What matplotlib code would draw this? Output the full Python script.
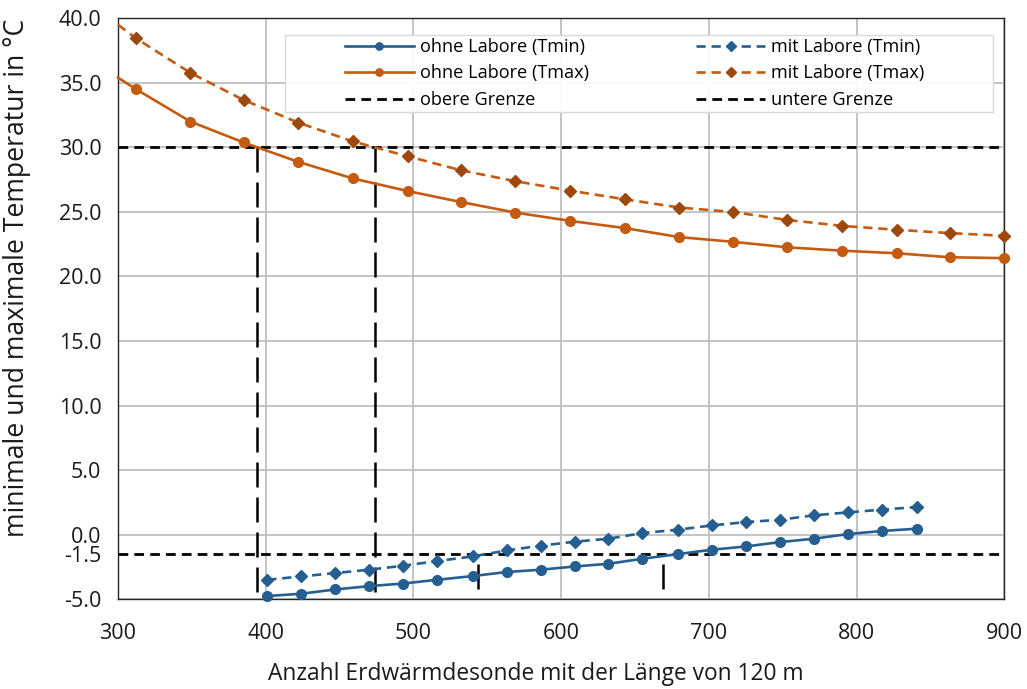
import matplotlib
matplotlib.use("Agg")
import matplotlib.pyplot as plt
from matplotlib.patches import Rectangle

# ______________________________________________________________________________
# Daten

# Anzahl Sonden - Tmin-Reihen
anzahl_tmin = [401, 424, 447, 470, 493, 516, 540, 563, 586, 609,
               632, 655, 679, 702, 725, 748, 771, 794, 817, 841]
tmin_ohne = [-4.75, -4.57, -4.24, -3.98, -3.78, -3.49, -3.20, -2.89, -2.71, -2.46,
             -2.25, -1.86, -1.50, -1.16, -0.91, -0.57, -0.31, 0.05, 0.29, 0.47]
tmin_mit = [-3.49, -3.23, -2.97, -2.71, -2.40, -2.04, -1.68, -1.22, -0.85, -0.54,
            -0.31, 0.13, 0.39, 0.72, 0.98, 1.16, 1.50, 1.73, 1.94, 2.15]

# Tmax-Reihen (erster Wert = Kurvenanfang am Achsenrand, ohne Marker)
anzahl_tmax = [300, 312, 349, 385, 422, 459, 496, 532, 569, 606,
               643, 680, 716, 753, 790, 827, 863, 900]
tmax_ohne = [35.4, 34.52, 32.00, 30.38, 28.88, 27.59, 26.62, 25.77, 24.95, 24.31,
             23.75, 23.05, 22.69, 22.26, 22.00, 21.80, 21.49, 21.42]
tmax_mit = [39.5, 38.46, 35.77, 33.67, 31.92, 30.46, 29.31, 28.23, 27.38, 26.65,
            25.98, 25.34, 25.00, 24.38, 23.92, 23.62, 23.36, 23.15]

# Grenzen
obere_grenze = 30.0
untere_grenze = -1.5

# Schnittpunkte mit den Grenzen
schnitt_oben = [394, 474]
schnitt_unten = [544, 669]

x_bereich = [300, 900]
x_ticks = [300, 400, 500, 600, 700, 800, 900]
y_ticks = [-5, 0, 5, 10, 15, 20, 25, 30, 35, 40]

# ______________________________________________________________________________
# RCParams

plt.rcParams['font.family'] = ['Open Sans', 'DejaVu Sans']
plt.rcParams['font.size'] = 14
plt.rcParams['axes.linewidth'] = 1.0

blau = '#255E91'
orange = '#C55A11'
braun = '#9E480E'
gitter = '#BFBFBF'
text = '#1A1A1A'

# ______________________________________________________________________________
# Figur

fig = plt.figure(figsize=(10.27, 6.89), dpi=100)
ax = fig.add_axes([0.1149, 0.1302, 0.8631, 0.8433])

strich = (0, (3.5, 2.2))
marker_ab = list(range(1, len(anzahl_tmax)))

ax.plot(anzahl_tmin, tmin_ohne, color=blau, lw=1.9, marker='o', ms=7,
        label='ohne Labore (Tmin)', zorder=4, clip_on=False)
ax.plot(anzahl_tmax, tmax_ohne, color=orange, lw=1.9, marker='o', ms=7,
        markevery=marker_ab, label='ohne Labore (Tmax)', zorder=4,
        clip_on=False)
ax.plot(x_bereich, [obere_grenze] * 2, color='k', lw=2.0, linestyle=strich,
        label='obere Grenze', zorder=3)
ax.plot(anzahl_tmin, tmin_mit, color=blau, lw=1.9, marker='D', ms=6.5,
        linestyle=strich, label='mit Labore (Tmin)', zorder=4, clip_on=False)
ax.plot(anzahl_tmax, tmax_mit, color=orange, lw=1.9, marker='D', ms=6.5,
        mfc=braun, mec=braun, markevery=marker_ab, linestyle=strich,
        label='mit Labore (Tmax)', zorder=4, clip_on=False)
ax.plot(x_bereich, [untere_grenze] * 2, color='k', lw=2.0, linestyle=strich,
        label='untere Grenze', zorder=3)

# senkrechte Hilfslinien an den Schnittpunkten
for xs in schnitt_oben:
    ax.plot([xs, xs], [obere_grenze, -5], color='k', lw=1.8,
            linestyle=(0, (10, 4)), zorder=3)
for xs in schnitt_unten:
    ax.plot([xs, xs], [untere_grenze, -5], color='k', lw=1.8,
            linestyle=(10, (10, 4)), zorder=3)

ax.set_xlim(x_bereich)
ax.set_ylim(-5, 40)
ax.set_xticks(x_ticks)
ax.set_yticks(y_ticks)
ax.set_yticklabels(['%.1f' % t for t in y_ticks])
ax.set_yticks([untere_grenze], minor=True)
ax.set_yticklabels(['%.1f' % untere_grenze], minor=True)

ax.tick_params(which='both', length=0, labelsize=15.5, colors=text)
ax.tick_params(axis='x', pad=17)
ax.tick_params(axis='y', which='both', pad=12)
ax.grid(True, which='major', color=gitter, lw=1.3, zorder=0)
ax.set_axisbelow(True)

for s in ax.spines.values():
    s.set_color('#262626')

ax.set_xlabel('Anzahl Erdwärmdesonde mit der Länge von 120 m', fontsize=16.4,
              color=text)
ax.xaxis.set_label_coords(0.471, -0.108)
ax.set_ylabel('minimale und maximale Temperatur in °C', fontsize=19.2,
              color=text)
ax.yaxis.set_label_coords(-0.098, 0.554)

# Legendenkasten
box = Rectangle((0.188, 0.839), 0.799, 0.132, transform=ax.transAxes,
                facecolor='white', alpha=0.92, edgecolor='none', zorder=5)
rand = Rectangle((0.188, 0.839), 0.799, 0.132, transform=ax.transAxes,
                 facecolor='none', edgecolor='#D9D9D9', lw=1.0, zorder=5)
ax.add_patch(box)
ax.add_patch(rand)

handles, labels = ax.get_legend_handles_labels()
leg = ax.legend(handles, labels, ncol=2, loc='center',
                bbox_to_anchor=(0.583, 0.905), frameon=False,
                fontsize=13.1, handlelength=3.8, markerscale=0.75,
                borderaxespad=0, labelspacing=0.47, handletextpad=0.33,
                columnspacing=5.9, borderpad=0)
leg.set_zorder(6)

fig.savefig('out.png', dpi=100)
